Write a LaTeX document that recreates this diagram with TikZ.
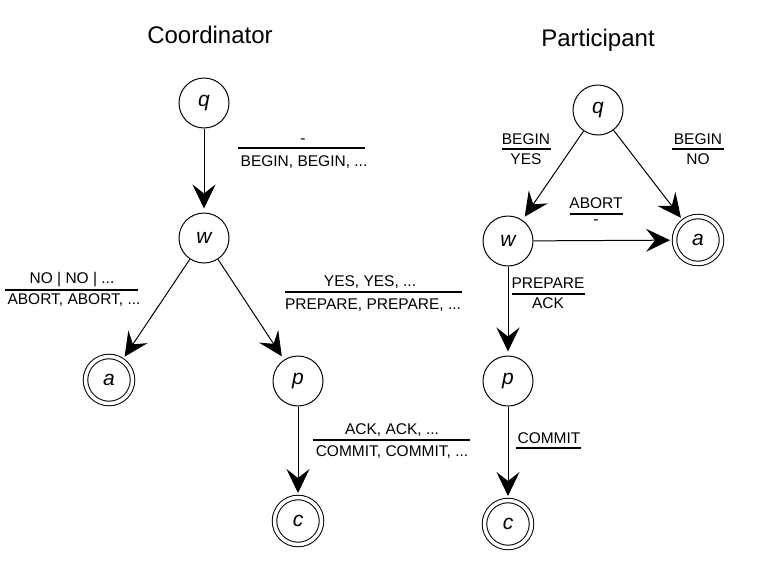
\documentclass[tikz,border=0pt]{standalone}
\usepackage{fontspec}
\setmainfont{Liberation Sans}
\usetikzlibrary{arrows.meta}
\begin{document}
\begin{tikzpicture}[x=1pt,y=-1pt,
  st/.style={circle,draw,line width=1pt,minimum size=50pt,inner sep=0pt,font=\fontsize{21}{22}\selectfont\itshape},
  fin/.style={st,double,double distance=3.5pt,minimum size=47pt},
  arr/.style={line width=1pt,-{Stealth[length=24pt,width=23pt,inset=9pt]},shorten >=4pt},
  lbl/.style={inner sep=0pt,font=\fontsize{15.5}{16}\selectfont},
  bar/.style={line width=1.3pt},
  ttl/.style={font=\fontsize{24}{26}\selectfont}]
\useasboundingbox (0,0) rectangle (771,579);
\node[ttl] (t1) at (210,35) {Coordinator};
\node[ttl] (t2) at (598,40) {Participant};
% coordinator
\node[st] (cq) at (204,103) {q};
\node[st] (cw) at (204,238) {w};
\node[fin] (ca) at (109,380) {a};
\node[st] (cp) at (298,381) {p};
\node[fin] (cc) at (298,521) {c};
\draw[arr] (cq) -- (cw);
\draw[arr] (cw) -- (ca);
\draw[arr] (cw) -- (cp);
\draw[arr] (cp) -- (cc);
% participant
\node[st] (pq) at (598,110) {q};
\node[st] (pw) at (508,241) {w};
\node[fin] (pa) at (698,240) {a};
\node[st] (pp) at (508,381) {p};
\node[fin] (pc) at (508,524) {c};
\draw[arr] (pq) -- (pw);
\draw[arr] (pq) -- (pa);
\draw[arr] (pw) -- (pa);
\draw[arr] (pw) -- (pp);
\draw[arr] (pp) -- (pc);
% labels coordinator
\draw[bar] (238,148) -- (365,148);
\node[lbl] (l1t) at (303,141) {-};
\node[lbl] (l1b) at (304,162) {BEGIN, BEGIN, ...};
\draw[bar] (5,290) -- (138,290);
\node[lbl] (l2t) at (72,280) {NO | NO | ...};
\node[lbl] (l2b) at (74,300) {ABORT, ABORT, ...};
\draw[bar] (285,292) -- (462,292);
\node[lbl] (l3t) at (370,282) {YES, YES, ...};
\node[lbl] (l3b) at (373,305) {PREPARE, PREPARE, ...};
\draw[bar] (313,440) -- (470,440);
\node[lbl] (l4t) at (392,430) {ACK, ACK, ...};
\node[lbl] (l4b) at (392,452) {COMMIT, COMMIT, ...};
% labels participant
\draw[bar] (502,149) -- (551,149);
\node[lbl] (l5t) at (526,139) {BEGIN};
\node[lbl] (l5b) at (526,159) {YES};
\draw[bar] (672,149) -- (724,149);
\node[lbl] (l6t) at (698,139) {BEGIN};
\node[lbl] (l6b) at (698,159) {NO};
\draw[bar] (570,214) -- (623,214);
\node[lbl] (l7t) at (596,203) {ABORT};
\node[lbl] (l7b) at (596,222) {-};
\draw[bar] (512,294) -- (585,294);
\node[lbl] (l8t) at (548,283) {PREPARE};
\node[lbl] (l8b) at (548,303) {ACK};
\draw[bar] (516,448) -- (581,448);
\node[lbl] (l9t) at (549,438) {COMMIT};
\end{tikzpicture}
\end{document}
